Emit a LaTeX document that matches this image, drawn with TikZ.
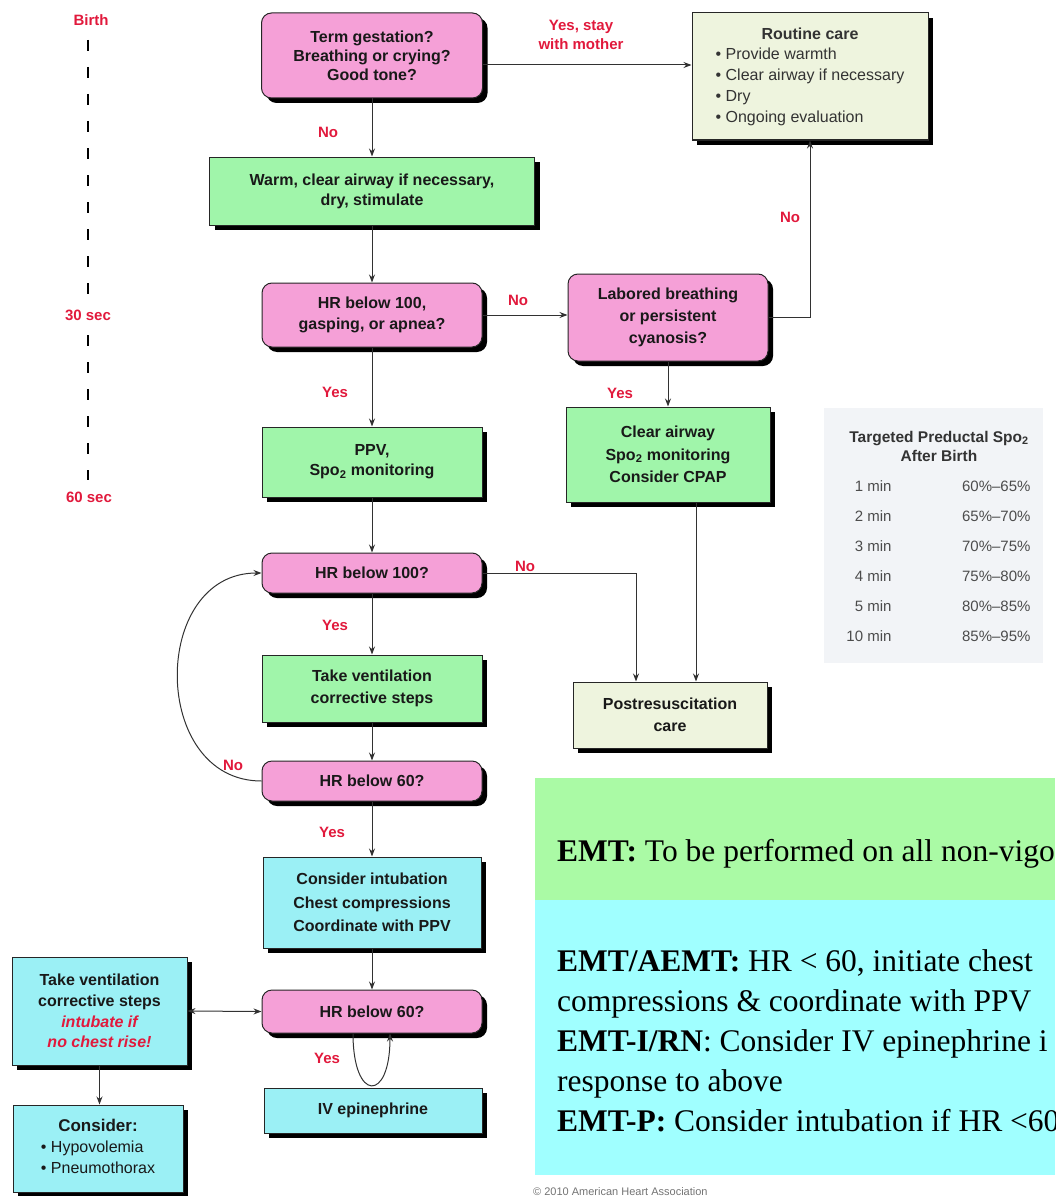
\documentclass[tikz,border=0pt]{standalone}
\usepackage{fontspec}
\setmainfont{Liberation Serif}
\newfontfamily\arial{Liberation Sans}
\usetikzlibrary{shadows,arrows.meta}

\definecolor{pinkbox}{RGB}{245,160,215}
\definecolor{greenbox}{RGB}{160,245,170}
\definecolor{cyanbox}{RGB}{155,240,245}
\definecolor{beige}{RGB}{238,244,222}
\definecolor{lblred}{RGB}{225,25,60}
\definecolor{emtgreen}{RGB}{170,250,165}
\definecolor{emtcyan}{RGB}{160,255,255}
\definecolor{tablebg}{RGB}{242,244,247}
\definecolor{lineclr}{RGB}{50,50,50}

\tikzset{
 box/.style={draw=black!85, line width=1pt, align=center, inner sep=0pt,
   font=\arial\bfseries\fontsize{16}{21}\selectfont, text=black!90,
   drop shadow={shadow xshift=5pt, shadow yshift=-5pt, opacity=1, fill=black}},
 lh/.style={font=\arial\bfseries\fontsize{16}{#1}\selectfont},
 pinkq/.style={box, fill=pinkbox, rounded corners=10pt},
 greenact/.style={box, fill=greenbox},
 cyanact/.style={box, fill=cyanbox},
 beigebox/.style={box, fill=beige},
 lbl/.style={font=\arial\bfseries\fontsize{15}{19}\selectfont, text=lblred, align=center},
 arr/.style={draw=lineclr, line width=1pt, -{Stealth[length=8pt,width=6pt]}},
 tl/.style={draw=black, line width=2.2pt, dash pattern=on 11pt off 16pt},
 tbltxt/.style={font=\arial\fontsize{15}{19}\selectfont, text=black!70},
 emt/.style={font=\fontsize{31.5}{40}\selectfont, anchor=base west, inner sep=0pt, text=black},
}

\begin{document}
\begin{tikzpicture}[x=1pt,y=-1pt]
\useasboundingbox (0,0) rectangle (1055,1196);

% right-hand colour panels
\fill[emtgreen] (535,778) rectangle (1055,900);
\fill[emtcyan] (535,900) rectangle (1055,1175);
\begin{scope}
\clip (535,778) rectangle (1055,1175);
\node[emt] (e0) at (557,861) {\textbf{EMT:} To be performed on all non-vigo};
\node[emt] (e1) at (557,971.5) {\textbf{EMT/AEMT:} HR < 60, initiate chest};
\node[emt] (e2) at (557,1011.5) {compressions \& coordinate with PPV};
\node[emt] (e3) at (557,1051.5) {\textbf{EMT-I/RN}: Consider IV epinephrine i};
\node[emt] (e4) at (557,1091.5) {response to above};
\node[emt] (e5) at (557,1131.5) {\textbf{EMT-P:} Consider intubation if HR <60};
\end{scope}
\node[font=\arial\fontsize{11}{13}\selectfont, text=black!55, anchor=west, inner sep=0pt] (copy) at (533,1192) {\textcopyright{} 2010 American Heart Association};

% table
\node[fill=tablebg, minimum width=219pt, minimum height=255pt, inner sep=0pt] (tbl) at (933.5,535.5) {};
\node[tbltxt, align=center, text=black!80, font=\arial\bfseries\fontsize{15.5}{19.5}\selectfont] (tt) at (939,446.5) {Targeted Preductal Spo\textsubscript{2}\\After Birth};
\foreach \i/\t/\p in {0/1 min/60\%–65\%, 1/2 min/65\%–70\%, 2/3 min/70\%–75\%, 3/4 min/75\%–80\%, 4/5 min/80\%–85\%, 5/10 min/85\%–95\%}{
  \node[tbltxt, anchor=east] (tm\i) at (895,486+30*\i) {\t};
  \node[tbltxt, anchor=east] (tp\i) at (1034,486+30*\i) {\p};
}

% timeline
\node[lbl] (birth) at (91,20) {Birth};
\node[lbl] (s30) at (88,315) {30 sec};
\node[lbl] (s60) at (89,497) {60 sec};
\draw[tl] (88,40) -- (88,300);
\draw[tl] (88,335) -- (88,480);

% nodes
\node[pinkq, minimum width=221pt, minimum height=85pt, lh=19] (q1) at (372,55.5) {Term gestation?\\Breathing or crying?\\Good tone?};
\node[beigebox, minimum width=236pt, minimum height=127pt, font=\arial\fontsize{16}{20.7}\selectfont, text=black!80] (rc) at (810,76.5)
 {\begin{tabular}{@{}l@{}}\multicolumn{1}{c}{\bfseries Routine care}\\ \textbullet\ Provide warmth\\ \textbullet\ Clear airway if necessary\\ \textbullet\ Dry\\ \textbullet\ Ongoing evaluation\end{tabular}};
\node[greenact, minimum width=325pt, minimum height=68pt, lh=20] (a1) at (372,191) {Warm, clear airway if necessary,\\dry, stimulate};
\node[pinkq, minimum width=220pt, minimum height=64pt] (q2) at (372,315) {HR below 100,\\gasping, or apnea?};
\node[pinkq, minimum width=200pt, minimum height=87pt, lh=22] (q3) at (668,317.5) {Labored breathing\\or persistent\\cyanosis?};
\node[greenact, minimum width=204pt, minimum height=95pt, lh=22.5] (a3) at (668,454.5) {Clear airway\\Spo\textsubscript{2} monitoring\\Consider CPAP};
\node[greenact, minimum width=220pt, minimum height=70pt, lh=20] (a2) at (372,462) {PPV,\\Spo\textsubscript{2} monitoring};
\node[pinkq, minimum width=220pt, minimum height=40pt] (q4) at (372,573) {HR below 100?};
\node[greenact, minimum width=220pt, minimum height=67pt, lh=22] (a4) at (372,688.5) {Take ventilation\\corrective steps};
\node[pinkq, minimum width=220pt, minimum height=40pt] (q5) at (372,781) {HR below 60?};
\node[beigebox, minimum width=194pt, minimum height=66pt, lh=22] (pc) at (670,715) {Postresuscitation\\care};
\node[cyanact, minimum width=218pt, minimum height=91pt, lh=23.5] (a5) at (372,902.5) {Consider intubation\\Chest compressions\\Coordinate with PPV};
\node[pinkq, minimum width=220pt, minimum height=43pt] (q6) at (372,1011.5) {HR below 60?};
\node[cyanact, minimum width=175pt, minimum height=108pt, lh=20.7] (a6) at (99.5,1011) {Take ventilation\\corrective steps\\\textcolor{lblred}{\itshape intubate if}\\\textcolor{lblred}{\itshape no chest rise!}};
\node[cyanact, minimum width=218pt, minimum height=45pt] (a7) at (373,1110.5) {IV epinephrine};
\node[cyanact, minimum width=170pt, minimum height=87pt, font=\arial\fontsize{16}{21}\selectfont] (a8) at (98,1148.5)
 {\begin{tabular}{@{}l@{}}\multicolumn{1}{c}{\bfseries\fontsize{17}{21}\selectfont Consider:}\\ \textbullet\ Hypovolemia\\ \textbullet\ Pneumothorax\end{tabular}};

% connectors
\draw[arr] (q1.south) -- (a1.north);
\node[lbl] (l1) at (328,132) {No};
\draw[arr] ([yshift=-9.5pt]q1.east) -- ([yshift=-9.5pt]q1.east -| rc.west);
\node[lbl] (l2) at (581,35) {Yes, stay\\with mother};
\draw[arr] (a1.south) -- (q2.north);
\draw[arr] (q2.east) -- (q2.east -| q3.west);
\node[lbl] (l3) at (518,300) {No};
\draw[arr] (q3.east) -| (rc.south);
\node[lbl] (l4) at (790,217) {No};
\draw[arr] (q3.south) -- (a3.north);
\node[lbl] (l5) at (620,393) {Yes};
\draw[arr] (q2.south) -- (a2.north);
\node[lbl] (l6) at (335,392) {Yes};
\draw[arr] (a2.south) -- (q4.north);
\draw[arr] (q4.east) -| ([xshift=-34pt]pc.north);
\node[lbl] (l7) at (525,566) {No};
\draw[arr] ([xshift=28pt]a3.south) -- ([xshift=28pt]a3.south |- pc.north);
\draw[arr] (q4.south) -- (a4.north);
\node[lbl] (l8) at (335,625) {Yes};
\draw[arr] (a4.south) -- (q5.north);
\draw[arr] (q5.west) .. controls (150,781) and (150,573) .. (q4.west);
\node[lbl] (l9) at (233,765) {No};
\draw[arr] (q5.south) -- (a5.north);
\node[lbl] (l10) at (332,832) {Yes};
\draw[arr] (a5.south) -- (q6.north);
\draw[arr, {Stealth[length=8pt,width=6pt]}-{Stealth[length=8pt,width=6pt]}] (a6.east) -- (q6.west);
\draw[arr] (a6.south) -- (a6.south |- a8.north);
\draw[arr] ([xshift=-19pt]q6.south) .. controls ([xshift=-19pt,yshift=-69pt]q6.south) and ([xshift=18pt,yshift=-69pt]q6.south) .. ([xshift=18pt]q6.south);
\node[lbl] (l11) at (327,1058) {Yes};
\end{tikzpicture}
\end{document}
